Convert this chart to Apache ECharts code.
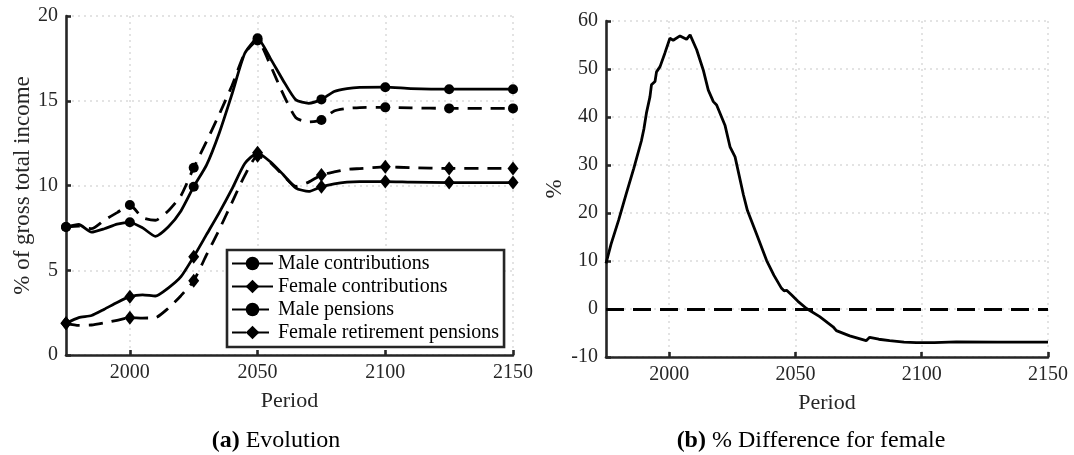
<!DOCTYPE html>
<html>
<head>
<meta charset="utf-8">
<script src="https://cdn.jsdelivr.net/npm/echarts@6/dist/echarts.min.js"></script>
<style>
  html, body { margin: 0; padding: 0; background: #fff; }
  #chart { width: 1074px; height: 455px; }
</style>
</head>
<body>
<div id="chart"></div>
<script>
// Panel (a): shares of gross total income by period
const years = [1975, 1980, 1985, 1990, 1995, 2000, 2005, 2010, 2015, 2020, 2025, 2030, 2035, 2040, 2045,
  2050, 2055, 2060, 2065, 2070, 2075, 2080, 2085, 2090, 2100, 2110, 2125, 2140, 2150];
const maleContributions = [7.55, 7.7, 7.25, 7.45, 7.72, 7.83, 7.5, 7.0, 7.55, 8.5, 9.93, 11.2, 13.1, 15.4, 17.8,
  18.68, 17.5, 16.2, 15.05, 14.85, 15.08, 15.55, 15.72, 15.79, 15.8, 15.72, 15.68, 15.68, 15.68];
const femaleContributions = [1.87, 2.2, 2.33, 2.7, 3.1, 3.44, 3.55, 3.48, 3.95, 4.62, 5.8, 7.1, 8.4, 9.8, 11.3,
  11.93, 11.4, 10.65, 9.85, 9.65, 9.93, 10.1, 10.2, 10.23, 10.23, 10.2, 10.17, 10.17, 10.17];
const malePensions = [7.55, 7.6, 7.45, 7.95, 8.4, 8.85, 8.1, 7.95, 8.5, 9.4, 11.05, 12.6, 14.2, 15.9, 17.8,
  18.55, 17.1, 15.4, 14.0, 13.75, 13.86, 14.4, 14.55, 14.6, 14.61, 14.58, 14.55, 14.55, 14.55];
const femalePensions = [1.87, 1.75, 1.77, 1.9, 2.05, 2.2, 2.18, 2.2, 2.75, 3.5, 4.38, 5.9, 7.4, 9.0, 10.6,
  11.75, 11.35, 10.6, 9.95, 10.2, 10.62, 10.8, 10.95, 11.0, 11.1, 11.05, 11.01, 11.01, 11.01];

// Panel (b): % difference for female
const diffYears = [1975, 1977, 1980, 1983, 1986, 1989, 1990, 1991, 1992.4, 1993, 1994.4, 1995, 1996.4, 1998.3,
  2000.3, 2001.6, 2004.3, 2006.9, 2008.3, 2010.9, 2013.5, 2015.5, 2017.5, 2018.8, 2022.1, 2024.1, 2026.1,
  2029.4, 2031, 2034.6, 2038.6, 2041.5, 2044.5, 2045.5, 2046.5, 2048.5, 2051, 2054.4, 2059.6, 2064.9, 2066.2,
  2071.5, 2078, 2079.4, 2083, 2087.3, 2093, 2097.9, 2105, 2113.7, 2130, 2150];
const diffValues = [9.5, 13.5, 18.5, 24, 29.3, 35, 37.5, 40.8, 44.2, 46.7, 47.4, 49.4, 50.5, 53.3,
  56.4, 56.0, 56.9, 56.2, 57.1, 54.0, 49.8, 45.6, 43.2, 42.5, 38.3, 33.8, 31.7,
  23.8, 20.5, 15.6, 10.1, 7.0, 4.3, 3.8, 3.9, 2.9, 1.6, 0.1, -1.6, -3.7, -4.5,
  -5.6, -6.6, -5.9, -6.3, -6.6, -6.9, -7.0, -7.0, -6.85, -6.9, -6.9];

const xTicks = [2000, 2050, 2100, 2150];
const leftYTicks = { min: 0, max: 20, interval: 5 };
const rightYTicks = { min: -10, max: 60, interval: 10 };

const FONT = 'Liberation Serif';
const AXIS_COLOR = '#262626';
const pairs = (xs, ys) => xs.map((x, i) => [x, ys[i]]);
const markerEvery25 = size => (v => ((v[0] - 1975) % 25 === 0 ? size : 0));

const gridLine = { show: true, lineStyle: { color: '#e3e3e3', width: 2, type: [2, 4] } };

function xAxisFor(gridIndex) {
  return {
    type: 'value', gridIndex, min: 1975, max: 2150,
    name: 'Period', nameLocation: 'middle', nameGap: 35,
    nameTextStyle: { fontFamily: FONT, fontSize: 22, color: AXIS_COLOR },
    axisLine: { show: true, onZero: false, lineStyle: { color: AXIS_COLOR, width: 2.6 } },
    axisTick: { show: true, inside: true, length: 5, customValues: xTicks, lineStyle: { color: AXIS_COLOR, width: 2.6 } },
    axisLabel: { customValues: xTicks, margin: 8, fontFamily: FONT, fontSize: 20, color: AXIS_COLOR,
      formatter: v => String(v) },
    splitLine: gridLine
  };
}

function yAxisFor(gridIndex, ticks, name, gap) {
  return {
    type: 'value', gridIndex, min: ticks.min, max: ticks.max, interval: ticks.interval,
    name, nameLocation: 'middle', nameGap: gap, nameRotate: 90,
    nameTextStyle: { fontFamily: FONT, fontSize: 23, color: AXIS_COLOR },
    axisLine: { show: true, onZero: false, lineStyle: { color: AXIS_COLOR, width: 2.6 } },
    axisTick: { show: true, inside: true, length: 5, lineStyle: { color: AXIS_COLOR, width: 2.6 } },
    axisLabel: { margin: 8, fontFamily: FONT, fontSize: 20, color: AXIS_COLOR, formatter: v => String(v) },
    splitLine: gridLine
  };
}

function lineSeries(name, values, dashed, symbol, size) {
  return {
    name, type: 'line', xAxisIndex: 0, yAxisIndex: 0,
    data: pairs(years, values),
    smooth: 0.2,
    symbol, symbolSize: markerEvery25(size),
    showSymbol: true,
    itemStyle: { color: '#000' },
    lineStyle: { color: '#000', width: 2.8, type: dashed ? [14, 9] : 'solid' },
    emphasis: { disabled: true },
    z: 3
  };
}

const chart = echarts.init(document.getElementById('chart'), null, { renderer: 'canvas' });
chart.setOption({
  animation: false,
  backgroundColor: '#fff',
  title: [
    { text: '{b|(a)} Evolution', left: 271, top: 424, textAlign: 'center',
      textStyle: { fontFamily: FONT, fontSize: 24, fontWeight: 'normal', color: '#000',
        rich: { b: { fontFamily: FONT, fontSize: 24, fontWeight: 'bold', color: '#000' } } } },
    { text: '{b|(b)} % Difference for female', left: 806, top: 424, textAlign: 'center',
      textStyle: { fontFamily: FONT, fontSize: 24, fontWeight: 'normal', color: '#000',
        rich: { b: { fontFamily: FONT, fontSize: 24, fontWeight: 'bold', color: '#000' } } } }
  ],
  grid: [
    { left: 66, top: 16, width: 447, height: 339 },
    { left: 606, top: 21, width: 442, height: 336 }
  ],
  legend: {
    data: ['Male contributions', 'Female contributions', 'Male pensions', 'Female retirement pensions'],
    orient: 'vertical', left: 227, top: 250,
    padding: [2, 5, 3, 4], itemGap: 0, itemWidth: 41, itemHeight: 17,
    backgroundColor: '#fff', borderColor: AXIS_COLOR, borderWidth: 2.6, borderRadius: 0,
    textStyle: { fontFamily: FONT, fontSize: 20, color: '#000', lineHeight: 23 },
    selectedMode: false
  },
  xAxis: [xAxisFor(0), xAxisFor(1)],
  yAxis: [
    yAxisFor(0, leftYTicks, '% of gross total income', 29),
    yAxisFor(1, rightYTicks, '%', 40)
  ],
  series: [
    lineSeries('Male contributions', maleContributions, false, 'circle', 10),
    lineSeries('Female contributions', femaleContributions, false, 'diamond', [11, 14]),
    lineSeries('Male pensions', malePensions, true, 'circle', 10),
    lineSeries('Female retirement pensions', femalePensions, true, 'diamond', [11, 14]),
    {
      name: '% Difference', type: 'line', xAxisIndex: 1, yAxisIndex: 1,
      data: pairs(diffYears, diffValues),
      showSymbol: false, symbol: 'none',
      lineStyle: { color: '#000', width: 2.8 },
      emphasis: { disabled: true },
      markLine: {
        silent: true, symbol: 'none', label: { show: false },
        lineStyle: { color: '#000', width: 2.8, type: [18, 9] },
        data: [{ yAxis: 0 }]
      },
      z: 3
    }
  ]
});
</script>
</body>
</html>
